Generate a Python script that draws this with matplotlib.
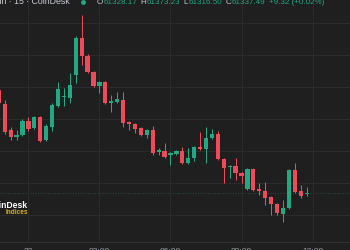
import matplotlib
matplotlib.use("Agg")
import matplotlib.pyplot as plt
import numpy as np

# 15-minute BTC candles
opens = [61981, 61894, 61731, 61688, 61700, 61788, 61744, 61813, 61669, 61750,
         61881, 61938, 61931, 62075, 62306, 62194, 62094, 62006, 62031, 61900,
         61906, 61919, 61781, 61769, 61744, 61700, 61731, 61594, 61600, 61575,
         61581, 61600, 61525, 61556, 61625, 61613, 61681, 61706, 61550, 61500,
         61506, 61463, 61363, 61488, 61363, 61350, 61313, 61269, 61206, 61244,
         61481, 61350, 61328.17]
highs = [62006, 61919, 61750, 61731, 61800, 61813, 61819, 61819, 61769, 61900,
         62031, 61994, 62088, 62319, 62450, 62206, 62100, 62038, 62038, 61950,
         61969, 61969, 61788, 61775, 61750, 61738, 61756, 61619, 61650, 61594,
         61606, 61625, 61619, 61631, 61719, 61750, 61738, 61725, 61556, 61513,
         61556, 61469, 61494, 61494, 61400, 61406, 61319, 61275, 61294, 61488,
         61525, 61388, 61373.23]
lows = [61894, 61706, 61669, 61669, 61694, 61725, 61738, 61656, 61663, 61725,
        61875, 61881, 61900, 62025, 62138, 62088, 62000, 61963, 61894, 61844,
        61900, 61750, 61731, 61713, 61694, 61681, 61575, 61575, 61556, 61513,
        61575, 61519, 61519, 61538, 61606, 61525, 61675, 61544, 61400, 61431,
        61419, 61400, 61356, 61350, 61325, 61263, 61200, 61200, 61156, 61238,
        61338, 61306, 61316.50]
closes = [61900, 61719, 61688, 61700, 61788, 61738, 61813, 61663, 61756, 61888,
          61988, 61944, 62013, 62306, 62194, 62094, 62006, 62031, 61900, 61913,
          61925, 61775, 61769, 61738, 61700, 61731, 61588, 61606, 61563, 61588,
          61600, 61525, 61556, 61625, 61613, 61681, 61706, 61550, 61494, 61506,
          61463, 61444, 61488, 61356, 61350, 61306, 61269, 61213, 61244, 61481,
          61344, 61319, 61337.49]

time_ticks = [5, 17, 29, 41, 53]
time_labels = ["22", "03:00", "06:00", "09:00", "12:00"]
price_grid = [61200, 61400, 61600, 61800, 62000, 62200, 62400]

header_name = "Bitcoin · 15 · CoinDesk"
header_parts = [("O", "61328.17"), ("H", "61373.23"), ("L", "61316.50"),
                ("C", "61337.49")]
header_change = "+9.32 (+0.02%)"

BG = "#1f1f1f"
GRID = "#2b2b2b"
UP = "#22a883"
DOWN = "#ef4a5a"
TXT = "#c8cbd2"
FONT = ["Liberation Sans", "DejaVu Sans"]

W, H = 350, 250
fig = plt.figure(figsize=(W / 100, H / 100), dpi=100, facecolor=BG)
ax = fig.add_axes([0, 8 / H, 1, 242 / H], facecolor=BG)

x = np.arange(len(opens))
o = np.array(opens)
c = np.array(closes)
colors = np.where(c >= o, UP, DOWN)
body = np.where(np.abs(c - o) < 5, 5 * np.sign(c - o + 0.01), c - o)

ax.vlines(x, lows, highs, colors=colors, lw=0.75, zorder=2)
ax.bar(x, body, bottom=o, width=0.72, color=colors, lw=0, zorder=3)

# last price line
ax.axhline(closes[-1], color=UP, lw=0.6, ls=(0, (1, 2)), alpha=0.45, zorder=1)

step = 5.92
c0 = -1.2
ax.set_xlim((0 - c0) / step, (W - c0) / step)
ax.set_ylim(61400 - 59 * 6.25, 61400 + 183 * 6.25)

ax.set_xticks(time_ticks, time_labels)
ax.set_yticks(price_grid)
ax.grid(True, color=GRID, lw=0.8, zorder=0)
ax.tick_params(axis="x", length=0, pad=4.2, labelsize=6, labelcolor="#9a9da5")
ax.tick_params(axis="y", length=0, labelleft=False)
for lab in ax.get_xticklabels():
    lab.set_family(FONT)
for s in ["top", "left", "right"]:
    ax.spines[s].set_visible(False)
ax.spines["bottom"].set_color("#303030")
ax.spines["bottom"].set_linewidth(0.8)

# header
fs = 5.8
fig.text(70 / W, 1 - 4.5 / H, header_name, ha="right", va="baseline",
         fontsize=6.3, color=TXT, family=FONT)
ax.plot([82.5 / W], [1 - 2 / H], "o", ms=3.5, color=UP, mec="none",
        transform=fig.transFigure, clip_on=False)

r = fig.canvas.get_renderer()
px = 97.0
for k, v in header_parts:
    t = fig.text(px / W, 1 - 4.5 / H, k, va="baseline", fontsize=fs,
                 color=TXT, family=FONT)
    px += t.get_window_extent(r).width + 0.6
    t = fig.text(px / W, 1 - 4.5 / H, v, va="baseline", fontsize=fs,
                 color=UP, family=FONT)
    px += t.get_window_extent(r).width + 3.2
fig.text(px / W, 1 - 4.5 / H, header_change, va="baseline", fontsize=fs,
         color=UP, family=FONT)

# watermark
fig.text(28 / W, 1 - 208.5 / H, "CoinDesk", ha="right", va="baseline",
         fontsize=6.2, color="white", weight="bold", family=FONT)
fig.text(28 / W, 1 - 214 / H, "Indices", ha="right", va="baseline",
         fontsize=4.7, color="#d6ad1c", weight="bold", family=FONT)

fig.savefig("out.png", dpi=100, facecolor=BG)
